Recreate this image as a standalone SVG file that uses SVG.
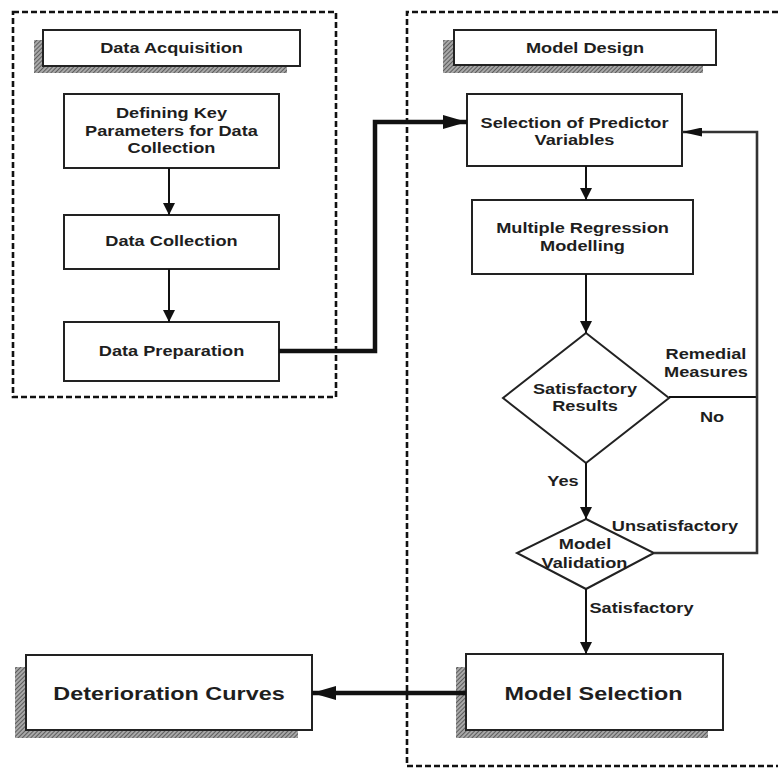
<svg xmlns="http://www.w3.org/2000/svg" width="778" height="769" viewBox="0 0 778 769">
<style>
.t{font-family:"Liberation Sans",Arial,sans-serif;font-weight:bold;font-size:14px;fill:#1e1e1e;text-anchor:middle}
.tb{font-family:"Liberation Sans",Arial,sans-serif;font-weight:bold;font-size:18px;fill:#1e1e1e;text-anchor:middle}
.box{fill:#fff;stroke:#222;stroke-width:2}
.sh{fill:url(#hatch);stroke:none}
.cont{fill:none;stroke:#111;stroke-width:2.6;stroke-dasharray:6 3}
.ln{fill:none;stroke:#111;stroke-width:2}
.thick{fill:none;stroke:#111;stroke-width:4.5}
.fb{fill:none;stroke:#333;stroke-width:2.6}
</style>
<defs>
<pattern id="hatch" width="3" height="3" patternUnits="userSpaceOnUse" patternTransform="rotate(45)">
<rect width="3" height="3" fill="#a8a8a8"/>
<line x1="0" y1="0" x2="0" y2="3" stroke="#444" stroke-width="1.5"/>
</pattern>
<marker id="arr" markerUnits="userSpaceOnUse" markerWidth="12" markerHeight="12" refX="12" refY="6" orient="auto">
<path d="M0,0 L12,6 L0,12 z" fill="#111"/>
</marker>
<marker id="arrBig" markerUnits="userSpaceOnUse" markerWidth="24" markerHeight="14" refX="24" refY="7" orient="auto">
<path d="M0,0 L24,7 L0,14 z" fill="#111"/>
</marker>
<marker id="arrSlim" markerUnits="userSpaceOnUse" markerWidth="20" markerHeight="9" refX="20" refY="4.5" orient="auto">
<path d="M0,0 L20,4.5 L0,9 z" fill="#111"/>
</marker>
</defs>
<rect width="778" height="769" fill="#fff"/>

<g id="containers">
<rect class="cont" x="13" y="12" width="323" height="385"/>
<path class="cont" d="M778,12 H407 V766 H778"/>
</g>

<g id="data-acquisition">
<rect class="sh" x="34" y="40" width="253" height="33"/>
<rect class="box" x="43" y="30" width="257" height="36"/>
<text class="t" transform="translate(171.5 53) scale(1.3 1)">Data Acquisition</text>
</g>

<g id="defining-key-parameters">
<rect class="box" x="64" y="94" width="215" height="74"/>
<text class="t" transform="translate(171.5 118) scale(1.3 1)">Defining Key</text>
<text class="t" transform="translate(171.5 136) scale(1.3 1)">Parameters for Data</text>
<text class="t" transform="translate(171.5 153) scale(1.3 1)">Collection</text>
</g>

<g id="data-collection">
<rect class="box" x="64" y="215" width="215" height="54"/>
<text class="t" transform="translate(171.5 246) scale(1.3 1)">Data Collection</text>
</g>

<g id="data-preparation">
<rect class="box" x="64" y="322" width="215" height="59"/>
<text class="t" transform="translate(171.5 356) scale(1.3 1)">Data Preparation</text>
</g>

<g id="model-design">
<rect class="sh" x="443" y="40" width="260" height="33"/>
<rect class="box" x="454" y="30" width="262" height="35"/>
<text class="t" transform="translate(585 53) scale(1.3 1)">Model Design</text>
</g>

<g id="selection-predictor">
<rect class="box" x="467" y="94" width="215" height="72"/>
<text class="t" transform="translate(574.5 128) scale(1.3 1)">Selection of Predictor</text>
<text class="t" transform="translate(574.5 145) scale(1.3 1)">Variables</text>
</g>

<g id="multiple-regression">
<rect class="box" x="472" y="200" width="221" height="74"/>
<text class="t" transform="translate(582.5 233) scale(1.3 1)">Multiple Regression</text>
<text class="t" transform="translate(582.5 251) scale(1.3 1)">Modelling</text>
</g>

<g id="satisfactory-results">
<polygon class="box" points="586,333 669,398 586,463 503,398"/>
<text class="t" transform="translate(585 394) scale(1.3 1)">Satisfactory</text>
<text class="t" transform="translate(585 411) scale(1.3 1)">Results</text>
</g>

<g id="model-validation">
<polygon class="box" points="586,519 654,553 586,589 517,553"/>
<text class="t" transform="translate(585 549) scale(1.3 1)">Model</text>
<text class="t" transform="translate(584.5 568) scale(1.3 1)">Validation</text>
</g>

<g id="model-selection">
<rect class="sh" x="456" y="667" width="252" height="71"/>
<rect class="box" x="466" y="654" width="257" height="76"/>
<text class="tb" transform="translate(593.5 699.5) scale(1.3 1)">Model Selection</text>
</g>

<g id="deterioration-curves">
<rect class="sh" x="15" y="667" width="283" height="71"/>
<rect class="box" x="26" y="655" width="286" height="75"/>
<text class="tb" transform="translate(169 699.5) scale(1.3 1)">Deterioration Curves</text>
</g>

<g id="connectors">
<line class="ln" x1="169" y1="168" x2="169" y2="215" marker-end="url(#arr)"/>
<line class="ln" x1="169" y1="269" x2="169" y2="322" marker-end="url(#arr)"/>
<path class="thick" d="M279,351 H375 V122 H467" marker-end="url(#arrBig)"/>
<line class="ln" x1="586" y1="166" x2="586" y2="200" marker-end="url(#arr)"/>
<line class="ln" x1="586" y1="274" x2="586" y2="333" marker-end="url(#arr)"/>
<line class="ln" x1="586" y1="463" x2="586" y2="519" marker-end="url(#arr)"/>
<line class="ln" x1="586" y1="589" x2="586" y2="654" marker-end="url(#arr)"/>
<path class="ln" d="M669,397 H757"/>
<path class="fb" d="M654,553 H757 V132 H682" marker-end="url(#arrSlim)"/>
<line class="thick" x1="466" y1="693" x2="312" y2="693" marker-end="url(#arrBig)"/>
<text class="t" transform="translate(706 359) scale(1.3 1)">Remedial</text>
<text class="t" transform="translate(706 377) scale(1.3 1)">Measures</text>
<text class="t" transform="translate(712 422) scale(1.3 1)">No</text>
<text class="t" transform="translate(563 486) scale(1.3 1)">Yes</text>
<text class="t" transform="translate(675 531) scale(1.3 1)">Unsatisfactory</text>
<text class="t" transform="translate(641.5 613) scale(1.3 1)">Satisfactory</text>
</g>
</svg>
